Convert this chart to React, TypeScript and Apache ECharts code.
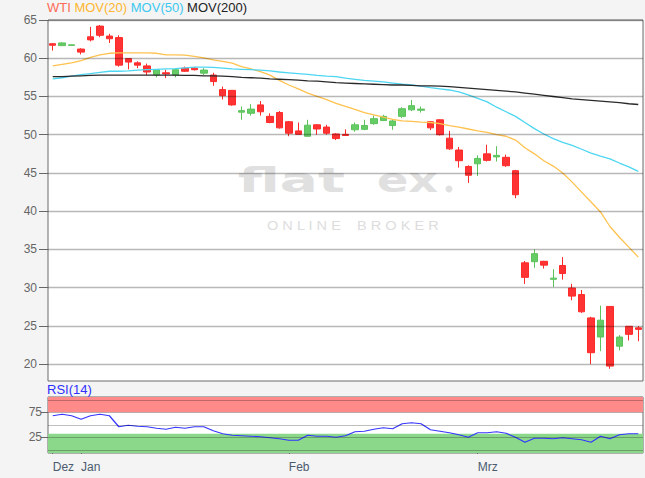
import React, { useEffect, useRef } from 'react';
import * as echarts from 'echarts';

// Trading days shown (Dec 27, 2019 – Mar 25, 2020)
const dates = [
  '2019-12-27', '2019-12-30', '2019-12-31',
  '2020-01-02', '2020-01-03', '2020-01-06', '2020-01-07', '2020-01-08', '2020-01-09', '2020-01-10',
  '2020-01-13', '2020-01-14', '2020-01-15', '2020-01-16', '2020-01-17', '2020-01-20', '2020-01-21',
  '2020-01-22', '2020-01-23', '2020-01-24', '2020-01-27', '2020-01-28', '2020-01-29', '2020-01-30', '2020-01-31',
  '2020-02-03', '2020-02-04', '2020-02-05', '2020-02-06', '2020-02-07', '2020-02-10', '2020-02-11', '2020-02-12',
  '2020-02-13', '2020-02-14', '2020-02-17', '2020-02-18', '2020-02-19', '2020-02-20', '2020-02-21', '2020-02-24',
  '2020-02-25', '2020-02-26', '2020-02-27', '2020-02-28',
  '2020-03-02', '2020-03-03', '2020-03-04', '2020-03-05', '2020-03-06', '2020-03-09', '2020-03-10', '2020-03-11',
  '2020-03-12', '2020-03-13', '2020-03-16', '2020-03-17', '2020-03-18', '2020-03-19', '2020-03-20', '2020-03-23',
  '2020-03-24', '2020-03-25'
];

const opens = [
  61.9, 61.65, 61.68, 61.2, 62.8, 64.2, 62.9, 62.7, 59.95, 59.4, 59.0, 57.8, 58.1, 57.8, 58.7, 58.7,
  58.05, 57.8, 55.9, 55.8, 52.95, 52.8, 53.9, 52.4, 52.9, 51.7, 50.5, 49.8, 51.3, 51.0, 50.1, 50.05,
  50.65, 50.7, 51.45, 51.85, 51.2, 52.4, 53.25, 53.2, 51.7, 51.95, 49.55, 48.0, 45.85, 46.2, 47.5,
  47.1, 47.05, 45.3, 33.25, 33.4, 33.45, 31.1, 32.9, 29.95, 29.1, 26.05, 23.55, 27.55, 22.35, 24.95, 24.75
];
const closes = [
  61.7, 62.0, 61.75, 60.8, 62.4, 63.0, 62.55, 59.1, 59.5, 59.1, 58.2, 58.5, 57.95, 58.5, 58.3, 58.5,
  58.45, 56.95, 55.1, 53.9, 53.15, 53.35, 53.0, 51.6, 50.9, 50.2, 50.05, 51.25, 50.75, 50.2, 49.5, 49.9,
  51.3, 51.2, 52.1, 52.4, 51.8, 53.4, 53.8, 53.35, 50.9, 50.0, 48.15, 46.6, 44.7, 46.9, 46.65,
  47.3, 45.95, 42.15, 31.35, 34.45, 32.95, 31.25, 31.85, 28.9, 26.85, 21.5, 25.75, 19.75, 23.55, 23.9, 24.55
];
const lows = [
  61.0, 61.6, 61.65, 60.5, 62.2, 62.75, 62.0, 58.9, 58.55, 58.7, 57.8, 57.5, 57.4, 57.5, 58.2, 58.4,
  57.8, 56.4, 54.6, 53.8, 51.95, 52.5, 52.5, 51.5, 50.8, 49.8, 50.0, 49.75, 50.0, 50.0, 49.3, 49.85,
  50.4, 50.6, 51.3, 51.8, 50.65, 52.2, 53.1, 52.9, 50.6, 49.9, 48.0, 45.7, 43.7, 44.6, 46.5,
  46.5, 45.8, 41.7, 30.5, 32.6, 32.5, 30.1, 31.05, 28.35, 26.7, 20.0, 21.7, 19.4, 21.8, 23.1, 23.0
];
const highs = [
  61.95, 62.1, 61.78, 61.3, 64.1, 64.35, 63.2, 63.0, 60.0, 59.6, 59.3, 58.5, 58.5, 58.6, 58.9, 58.85,
  58.7, 58.1, 56.3, 55.85, 53.7, 54.0, 54.4, 52.8, 53.1, 51.8, 51.6, 51.95, 51.4, 51.3, 50.2, 50.7,
  51.6, 51.95, 52.5, 52.6, 52.0, 53.6, 54.55, 53.7, 51.8, 52.0, 50.5, 48.4, 46.0, 47.3, 48.7,
  48.5, 47.4, 45.4, 33.5, 35.0, 33.5, 32.4, 34.0, 30.5, 29.7, 26.2, 27.65, 27.6, 23.8, 25.0, 25.0
];

const ma20 = [
  59.0, 59.2, 59.4, 59.7, 60.1, 60.45, 60.65, 60.7, 60.7, 60.7, 60.7, 60.65, 60.45, 60.45, 60.4, 60.25,
  60.05, 59.8, 59.6, 59.35, 58.9, 58.6, 58.25, 57.8, 57.1, 56.5, 56.0, 55.45, 55.0, 54.6, 54.1, 53.7,
  53.3, 52.9, 52.6, 52.3, 52.0, 51.8, 51.75, 51.65, 51.6, 51.45, 51.2, 51.0, 50.75, 50.5, 50.3,
  50.0, 49.8, 49.3, 48.3, 47.5, 46.6, 45.9, 45.0, 43.8, 42.5, 41.2, 39.9, 38.0, 36.6, 35.3, 34.0
];
const ma50 = [
  57.3, 57.45, 57.65, 57.85, 58.0, 58.15, 58.3, 58.3, 58.35, 58.45, 58.5, 58.55, 58.6, 58.65, 58.75, 58.85,
  58.85, 58.8, 58.7, 58.6, 58.55, 58.5, 58.45, 58.35, 58.2, 58.1, 58.0, 57.9, 57.75, 57.65, 57.6, 57.4,
  57.25, 57.1, 57.0, 56.9, 56.75, 56.6, 56.5, 56.35, 56.15, 56.0, 55.85, 55.6, 55.2, 54.75, 54.3,
  53.6, 53.0, 52.4, 51.6, 50.8, 50.1, 49.5, 49.0, 48.6, 48.1, 47.6, 47.2, 46.85, 46.3, 45.8, 45.2
];
const ma200 = [
  57.6, 57.6, 57.65, 57.7, 57.75, 57.8, 57.8, 57.8, 57.8, 57.8, 57.8, 57.8, 57.8, 57.8, 57.75, 57.75,
  57.7, 57.7, 57.65, 57.6, 57.5, 57.45, 57.4, 57.3, 57.25, 57.2, 57.15, 57.05, 57.0, 56.9, 56.8, 56.75,
  56.7, 56.65, 56.6, 56.55, 56.5, 56.5, 56.45, 56.4, 56.4, 56.35, 56.3, 56.2, 56.1, 56.0, 55.9,
  55.8, 55.7, 55.6, 55.45, 55.3, 55.15, 55.0, 54.85, 54.7, 54.6, 54.5, 54.4, 54.3, 54.2, 54.05, 53.95
];
const rsi14 = [
  68, 71, 68, 61, 68, 71, 68, 46, 49, 47, 46, 43, 41, 45, 43, 46,
  46, 38, 32, 29, 28, 27, 26, 24, 22, 19, 19, 29, 27, 27, 25, 28,
  36, 37, 41, 44, 42, 52, 54, 52, 40, 37, 34, 30, 25, 34, 34,
  36, 33, 25, 15, 23, 23, 22, 24, 22, 20, 15, 27, 22, 30, 32, 32
];

const priceTicks = [20, 25, 30, 35, 40, 45, 50, 55, 60, 65];
const rsiLabelTicks = [25, 75];
const rsiGridLines = [0, 25, 50, 75, 100];
const monthNames: Record<string, string> = { '12': 'Dez', '01': 'Jan', '02': 'Feb', '03': 'Mrz' };

const FONT = '"Liberation Sans", Arial, sans-serif';

export default function App() {
  const ref = useRef<HTMLDivElement>(null);

  useEffect(() => {
    if (!ref.current) return;
    const chart = echarts.init(ref.current, undefined, { renderer: 'svg' });

    const candles = dates.map((_, i) => [opens[i], closes[i], lows[i], highs[i]]);
    const monthStart = new Set<number>();
    dates.forEach((d, i) => {
      if (i === 0 || d.slice(5, 7) !== dates[i - 1].slice(5, 7)) monthStart.add(i);
    });
    const nulls = dates.map(() => null);

    const option: any = {
      animation: false,
      backgroundColor: '#f4f4f4',
      textStyle: { fontFamily: FONT },
      title: [
        {
          left: 47,
          top: 1,
          padding: 0,
          text: '{w|WTI} {a|MOV(20)} {b|MOV(50)} {c|MOV(200)}',
          textStyle: {
            fontSize: 13,
            fontWeight: 'normal',
            fontFamily: FONT,
            rich: {
              w: { color: '#ff6a55', fontSize: 13, fontFamily: FONT },
              a: { color: '#ffb62e', fontSize: 13, fontFamily: FONT },
              b: { color: '#3cc8f0', fontSize: 13, fontFamily: FONT },
              c: { color: '#222222', fontSize: 13, fontFamily: FONT },
            },
          },
        },
        {
          left: 47,
          top: 383,
          padding: 0,
          text: 'RSI(14)',
          textStyle: { color: '#2f2fff', fontSize: 13, fontWeight: 'normal', fontFamily: FONT },
        },
      ],
      graphic: [
        {
          type: 'text', z: 1, silent: true, x: 238, y: 180, scaleX: 1.66,
          style: { text: 'flat', fill: '#e0e0e0', font: 'bold 34px "DejaVu Sans"', align: 'left', verticalAlign: 'middle' },
        },
        {
          type: 'text', z: 1, silent: true, x: 377, y: 180, scaleX: 1.36,
          style: { text: 'ex', fill: '#e0e0e0', font: 'bold 34px "DejaVu Sans"', align: 'left', verticalAlign: 'middle' },
        },
        {
          type: 'circle', z: 1, silent: true, shape: { cx: 449, cy: 189, r: 3.5 },
          style: { fill: '#e0e0e0' },
        },
        {
          type: 'text', z: 1, silent: true, x: 267, y: 226, scaleX: 1.12,
          style: { text: 'O N L I N E    B R O K E R', fill: '#dddddd', font: '13px "Liberation Sans"', align: 'left', verticalAlign: 'middle' },
        },
      ],
      grid: [
        { left: 48, right: 2, top: 20, height: 361, show: true, backgroundColor: '#ffffff', borderColor: '#6b6b6b', borderWidth: 1 },
        { left: 48, right: 2, top: 397, height: 56, show: true, backgroundColor: '#ffffff', borderColor: '#6b6b6b', borderWidth: 1 },
      ],
      xAxis: [
        {
          type: 'category', gridIndex: 0, data: dates, boundaryGap: true,
          axisLine: { show: false }, axisTick: { show: false }, axisLabel: { show: false }, splitLine: { show: false },
        },
        {
          type: 'category', gridIndex: 1, data: dates, boundaryGap: true,
          axisLine: { show: false },
          splitLine: { show: false },
          axisTick: {
            show: true, alignWithLabel: true, length: 4,
            interval: (i: number) => monthStart.has(i),
            lineStyle: { color: '#555555' },
          },
          axisLabel: {
            interval: (i: number) => monthStart.has(i),
            formatter: (v: string) => monthNames[v.slice(5, 7)] || '',
            align: 'left', color: '#4b5b70', fontSize: 12, margin: 8, fontFamily: FONT,
          },
        },
      ],
      yAxis: [
        {
          type: 'value', gridIndex: 0, min: 17.8, max: 65,
          axisLine: { show: false }, splitLine: { show: false },
          axisTick: { show: true, customValues: priceTicks, length: 9, lineStyle: { color: '#666666' } },
          axisLabel: { customValues: priceTicks, color: '#666666', fontSize: 12, margin: 11, fontFamily: FONT },
        },
        {
          type: 'value', gridIndex: 1, min: -6.5, max: 105.5,
          axisLine: { show: false }, splitLine: { show: false },
          axisTick: { show: true, customValues: rsiLabelTicks, length: 7, lineStyle: { color: '#666666' } },
          axisLabel: { customValues: rsiLabelTicks, color: '#666666', fontSize: 12, margin: 6, fontFamily: FONT },
        },
      ],
      series: [
        {
          type: 'line', xAxisIndex: 0, yAxisIndex: 0, data: nulls, z: 2, silent: true, symbol: 'none',
          markLine: {
            silent: true, symbol: ['none', 'none'], label: { show: false },
            lineStyle: { color: 'rgba(0,0,0,0.28)', type: 'solid', width: 1.3 },
            data: priceTicks.map((v) => ({ yAxis: v })),
          },
        },
        {
          type: 'candlestick', xAxisIndex: 0, yAxisIndex: 0, data: candles, z: 3, barWidth: 7,
          itemStyle: {
            color: '#66cc66', color0: '#ff3333',
            borderColor: '#5cc25c', borderColor0: '#ff2a2a', borderWidth: 1,
          },
        },
        {
          type: 'line', xAxisIndex: 0, yAxisIndex: 0, data: ma20, z: 4, symbol: 'none',
          lineStyle: { color: '#ffc24f', width: 1.3 },
        },
        {
          type: 'line', xAxisIndex: 0, yAxisIndex: 0, data: ma50, z: 4, symbol: 'none',
          lineStyle: { color: '#4dd6f2', width: 1.3 },
        },
        {
          type: 'line', xAxisIndex: 0, yAxisIndex: 0, data: ma200, z: 4, symbol: 'none',
          lineStyle: { color: '#2a2a2a', width: 1.3 },
        },
        {
          type: 'line', xAxisIndex: 1, yAxisIndex: 1, data: nulls, z: 1, silent: true, symbol: 'none',
          markArea: {
            silent: true, label: { show: false },
            data: [
              [{ yAxis: 75, itemStyle: { color: '#ff8a8a' } }, { yAxis: 105.5 }],
              [{ yAxis: -6.5, itemStyle: { color: '#8bd88b' } }, { yAxis: 32 }],
            ],
          },
        },
        {
          type: 'line', xAxisIndex: 1, yAxisIndex: 1, data: nulls, z: 2, silent: true, symbol: 'none',
          markLine: {
            silent: true, symbol: ['none', 'none'], label: { show: false },
            lineStyle: { color: 'rgba(0,0,0,0.25)', type: 'solid', width: 1.2 },
            data: rsiGridLines.map((v) => ({ yAxis: v })),
          },
        },
        {
          type: 'line', xAxisIndex: 1, yAxisIndex: 1, data: rsi14, z: 3, symbol: 'none',
          lineStyle: { color: '#3535ff', width: 1.2 },
        },
      ],
    };

    chart.setOption(option);
    return () => chart.dispose();
  }, []);

  return <div ref={ref} style={{ position: 'fixed', left: 0, top: 0, width: 645, height: 478 }} />;
}
